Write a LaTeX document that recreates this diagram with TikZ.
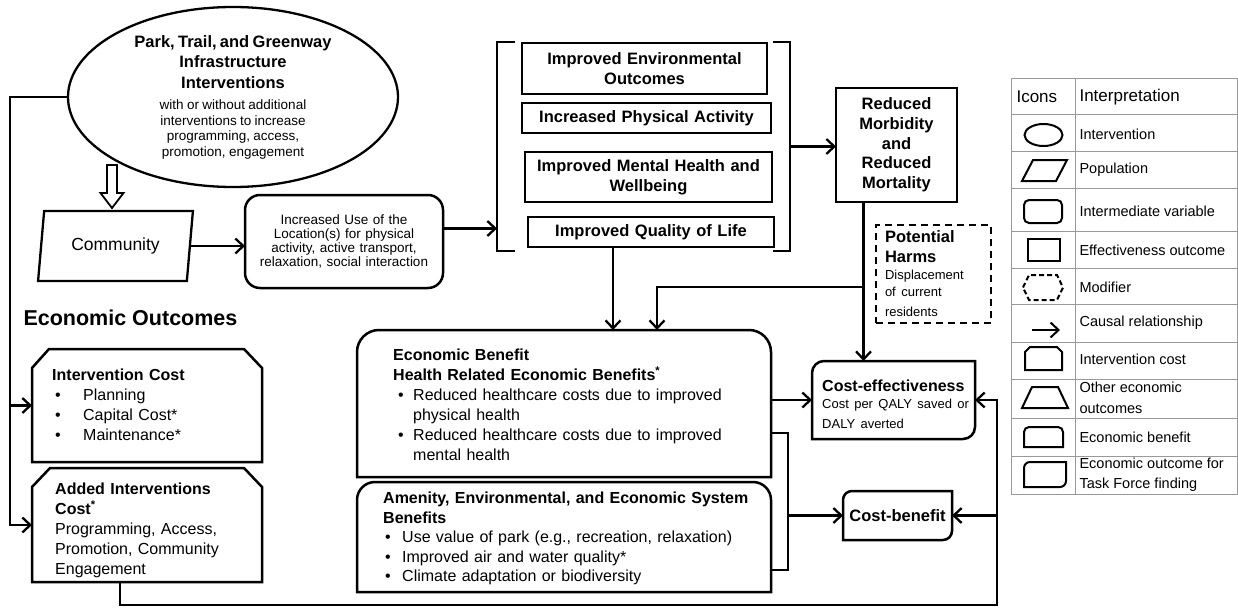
\documentclass[tikz,border=0pt]{standalone}
\usepackage{fontspec}
\setmainfont{Liberation Sans}
\usetikzlibrary{shapes.geometric,arrows.meta,positioning}
\setlength{\parindent}{0pt}
\setlength{\parskip}{0pt}
\newcommand{\bul}[2]{\hspace*{#1}\makebox[#2][l]{\textbullet}}

\tikzset{
  box/.style={draw, line width=2.5pt, outer sep=0pt},
  shell/.style={outer sep=0pt, inner sep=0pt},
  rim/.style={line width=2.5pt},
  conn/.style={line width=2.3pt},
  arr/.style={line width=2.3pt, -{Straight Barb[length=8pt,width=15pt]}},
  outbox/.style={text width=235pt, inner xsep=0pt, inner ysep=0pt, align=center, font=\fontsize{16.5}{20}\selectfont\bfseries},
  txt/.style={anchor=north west, inner sep=0pt, text width=420pt, align=left, font=\fontsize{16}{20}\selectfont},
  tbl/.style={gray!80, line width=0.9pt},
  icon/.style={line width=2pt},
  legtxt/.style={anchor=west, align=left, font=\fontsize{14.5}{20.5}\selectfont}
}

\begin{document}
\begin{tikzpicture}[x=1pt, y=-1pt]
  \useasboundingbox (0,0) rectangle (1238,607);

  % intervention, population, intermediate
  \node[ellipse, draw, line width=2.3pt, minimum width=330pt, minimum height=180pt, inner sep=0pt, text width=230pt, align=center] (park) at (233,97)
    {\fontsize{16.5}{20.5}\selectfont\bfseries Park, Trail, and Greenway\\Infrastructure\\Interventions\par
     \vspace{6pt}\fontsize{13.5}{15.5}\selectfont\mdseries with or without additional\\interventions to increase\\programming, access,\\promotion, engagement\par};
  \node[trapezium, trapezium left angle=80, trapezium right angle=100, trapezium stretches=true, draw, line width=2.3pt,
        minimum width=155pt, minimum height=70pt, font=\fontsize{17.5}{20}\selectfont] (comm) at (115.5,246) {Community};
  \coordinate (dtop) at (112,165);
  \draw[line width=1.8pt, fill=white] (dtop) ++(-5pt,0) -- ++(0,-28pt) -- ++(-6.5pt,0) -- ++(11.5pt,-15pt)
    -- ++(11.5pt,15pt) -- ++(-6.5pt,0) -- ++(0,28pt) -- cycle;
  \node[box, rounded corners=15pt, minimum width=198pt, minimum height=93pt, text width=190pt, inner xsep=0pt, align=center,
        font=\fontsize{13.5}{14.2}\selectfont] (use) at (344,241.5)
    {Increased Use of the\\Location(s) for physical\\activity, active transport,\\relaxation, social interaction};

  % effectiveness outcomes
  \node[shell, minimum width=293pt, minimum height=209pt] (outcomes) at (643.5,146.5) {};
  \draw[rim] ([xshift=18pt]outcomes.north west) -- (outcomes.north west) -- (outcomes.south west) -- ([xshift=18pt]outcomes.south west);
  \draw[rim] ([xshift=-17pt]outcomes.north east) -- (outcomes.north east) -- (outcomes.south east) -- ([xshift=-17pt]outcomes.south east);
  \node[box, outbox, minimum width=245pt, minimum height=51pt] (env) at (644.5,68.5) {Improved Environmental\\Outcomes};
  \node[box, outbox, minimum width=249pt, minimum height=30pt] (pa) at (646.5,118) {Increased Physical Activity};
  \node[box, outbox, minimum width=247pt, minimum height=50pt] (mental) at (648.5,177) {Improved Mental Health and\\Wellbeing};
  \node[box, outbox, minimum width=246pt, minimum height=30pt] (qol) at (651,232) {Improved Quality of Life};
  \node[box, minimum width=121pt, minimum height=114pt, text width=115pt, inner xsep=0pt, align=center,
        font=\fontsize{16.5}{19.7}\selectfont\bfseries] (mort) at (896.5,145) {Reduced\\Morbidity\\and\\Reduced\\Mortality};
  \node[draw, line width=1.5pt, dash pattern=on 7pt off 5pt, minimum width=115pt, minimum height=98pt, text width=97pt,
        inner xsep=9pt, inner ysep=0pt, align=left, font=\fontsize{16.5}{20}\selectfont\bfseries] (harms) at (933.5,274)
    {Potential\\Harms\par\fontsize{13}{17}\selectfont\mdseries Displacement\\of current\\residents};

  % economic outcomes
  \node[anchor=base west, font=\fontsize{21.5}{26}\selectfont\bfseries] (ecohead) at (20,325) {Economic Outcomes};

  \node[shell, minimum width=230pt, minimum height=113pt] (intc) at (147,405.5) {};
  \draw[rim] (intc.south west) -- ([yshift=-19pt]intc.north west) -- ([xshift=17pt]intc.north west)
    -- ([xshift=-18pt]intc.north east) -- ([yshift=-19pt]intc.north east) -- (intc.south east) -- cycle;
  \node[txt] (intctxt) at ([shift={(20pt,-20pt)}]intc.north west)
    {\textbf{Intervention Cost}\\\bul{3pt}{28pt}Planning\\\bul{3pt}{28pt}Capital Cost*\\\bul{3pt}{28pt}Maintenance*};

  \node[shell, minimum width=230pt, minimum height=114pt] (added) at (147,525) {};
  \draw[rim] (added.south west) -- ([yshift=-19pt]added.north west) -- ([xshift=18pt]added.north west)
    -- ([xshift=-18pt]added.north east) -- ([yshift=-19pt]added.north east) -- (added.south east) -- cycle;
  \node[txt] (addedtxt) at ([shift={(23pt,-15pt)}]added.north west)
    {\textbf{Added Interventions}\\\textbf{Cost\textsuperscript{*}}\\Programming, Access,\\Promotion, Community\\Engagement};

  \node[shell, minimum width=414pt, minimum height=147pt] (ben) at (564,403.5) {};
  \draw[rim] (ben.south west) -- ([yshift=-22pt]ben.north west) arc[start angle=180, end angle=90, radius=22pt]
    -- ([xshift=-22pt]ben.north east) arc[start angle=90, end angle=0, radius=22pt] -- (ben.south east) -- cycle;
  \node[txt] (bentxt) at ([shift={(36pt,-19pt)}]ben.north west)
    {\textbf{Economic Benefit}\\\textbf{Health Related Economic Benefits\textsuperscript{*}}\\
     \bul{5pt}{15pt}Reduced healthcare costs due to improved\\\hspace*{20pt}physical health\\
     \bul{5pt}{15pt}Reduced healthcare costs due to improved\\\hspace*{20pt}mental health};

  \node[shell, minimum width=414pt, minimum height=110pt] (amen) at (564,537) {};
  \draw[rim] (amen.south west) -- ([yshift=-18pt]amen.north west) arc[start angle=180, end angle=90, radius=18pt]
    -- ([xshift=-18pt]amen.north east) arc[start angle=90, end angle=0, radius=18pt] -- (amen.south east) -- cycle;
  \node[txt, font=\fontsize{16}{19.5}\selectfont] (amentxt) at ([shift={(26pt,-10pt)}]amen.north west)
    {\textbf{Amenity, Environmental, and Economic System}\\\textbf{Benefits}\\
     \bul{2pt}{17pt}Use value of park (e.g., recreation, relaxation)\\
     \bul{2pt}{17pt}Improved air and water quality*\\
     \bul{2pt}{17pt}Climate adaptation or biodiversity};

  \node[shell, minimum width=163pt, minimum height=78pt] (ce) at (893.5,400) {};
  \draw[rim] (ce.south west) -- ([yshift=-12pt]ce.north west) arc[start angle=180, end angle=90, radius=12pt]
    -- (ce.north east) -- ([yshift=12pt]ce.south east) arc[start angle=0, end angle=-90, radius=12pt] -- cycle;
  \node[txt] (cetxt) at ([shift={(10pt,-19pt)}]ce.north west)
    {\fontsize{16}{18}\selectfont\bfseries Cost-effectiveness\par
     \fontsize{13}{16.5}\selectfont\mdseries Cost per QALY saved or\\DALY averted};

  \node[shell, minimum width=109pt, minimum height=49pt, font=\fontsize{16.5}{20}\selectfont\bfseries] (cb) at (897.5,515.5) {Cost-benefit};
  \draw[rim] (cb.south west) -- ([yshift=-9pt]cb.north west) arc[start angle=180, end angle=90, radius=9pt]
    -- (cb.north east) -- ([yshift=9pt]cb.south east) arc[start angle=0, end angle=-90, radius=9pt] -- cycle;

  % connectors
  \coordinate (lft) at (10,97);
  \draw[arr] (park.west) -- (lft) |- (added.west);
  \draw[arr] (lft |- intc.west) -- (intc.west);
  \draw[arr] (comm.east) -- (comm.east -| use.west);
  \draw[arr] ([yshift=13pt]use.east) -- ([yshift=13pt]use.east -| outcomes.west);
  \draw[arr] (outcomes.east) -- (outcomes.east -| mort.west);
  \coordinate (mdrop) at ([xshift=-33pt]mort.south);
  \coordinate (split) at ([yshift=-85pt]mdrop);
  \coordinate (benin1) at ([xshift=49pt]ben.north);
  \coordinate (benin2) at ([xshift=93pt]ben.north);
  \draw[arr] (mdrop) -- (mdrop |- ce.north);
  \draw[arr] (split) -| (benin2);
  \draw[arr] (qol.south -| benin1) -- (benin1);
  \draw[arr] (ben.east |- ce.west) -- (ce.west);
  \coordinate (jtop) at ([shift={(17pt,-29.5pt)}]ben.east);
  \coordinate (jbot) at ([shift={(17pt,-33pt)}]amen.east);
  \draw[conn] (jtop -| ben.east) -- (jtop) -- (jbot) -- (jbot -| amen.east);
  \draw[arr] (jtop |- cb.west) -- (cb.west);
  \coordinate (addout) at ([xshift=-27pt]added.south);
  \coordinate (loopx) at ([xshift=22pt]ce.east);
  \coordinate (loopy) at ([yshift=-23pt]added.south);
  \draw[arr] (addout) |- (loopx |- loopy) -- (loopx) -- (ce.east);
  \draw[arr] (loopx |- cb.east) -- (cb.east);

  % legend
  \draw[tbl] (1011,78) rectangle (1237,494);
  \draw[tbl] (1075,78) -- (1075,494);
  \foreach \y in {114,151,188,231,268,304,342,379,418,456}
    \draw[tbl] (1011,\y) -- (1237,\y);
  \node[anchor=west, font=\fontsize{17}{20}\selectfont] (icons) at (1013,97) {Icons};
  \node[anchor=west, font=\fontsize{17}{20}\selectfont] (interp) at (1076,97) {Interpretation};
  \foreach \y/\txt [count=\i] in {134/Intervention, 170/Population, 211/Intermediate variable, 250/Effectiveness outcome,
      287/Modifier, 323/Causal relationship, 359/Intervention cost, 398/{Other economic\\outcomes},
      437/Economic benefit, 474.5/{Economic outcome for\\Task Force finding}}
    \node[legtxt] (leg\i) at (1076,\y) {\txt};

  \draw[icon] (1043.5,135) ellipse[x radius=19pt, y radius=11pt];
  \draw[icon] (1022,181) -- (1033,160) -- (1067,160) -- (1056,181) -- cycle;
  \draw[icon, rounded corners=5pt] (1024,200) rectangle (1062,223);
  \draw[icon] (1028,239) rectangle (1060,261);
  \draw[icon, dash pattern=on 5pt off 3pt] (1023,287.5) -- (1029,275) -- (1057,275) -- (1063,287.5) -- (1057,300) -- (1029,300) -- cycle;
  \draw[arr, line width=2pt] (1032,330) -- (1060,330);
  \draw[icon] (1025,370) -- (1025,352) -- (1030,347) -- (1057,347) -- (1062,352) -- (1062,370) -- cycle;
  \draw[icon] (1022,408) -- (1032,387) -- (1058,387) -- (1068,408) -- cycle;
  \draw[icon] (1024,447) -- (1024,432) arc[start angle=180, end angle=90, radius=5pt] -- (1058,427)
    arc[start angle=90, end angle=0, radius=5pt] -- (1063,447) -- cycle;
  \draw[icon] (1024,487) -- (1024,468) arc[start angle=180, end angle=90, radius=6pt] -- (1066,462) -- (1066,481)
    arc[start angle=0, end angle=-90, radius=6pt] -- cycle;
\end{tikzpicture}
\end{document}
